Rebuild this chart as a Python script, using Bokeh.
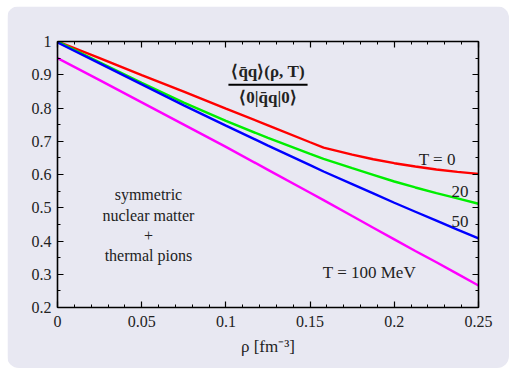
from bokeh.plotting import figure
from bokeh.models import FixedTicker, LinearAxis, Range1d
from bokeh.core.properties import value
from bokeh.embed import file_html
from bokeh.resources import INLINE

# ---- data ----
rho = [0.0, 0.025, 0.05, 0.075, 0.1, 0.125, 0.15, 0.158, 0.175, 0.1875, 0.2, 0.2125, 0.225, 0.2375, 0.25]
cond_T0   = [1.000, 0.950, 0.899, 0.849, 0.798, 0.748, 0.697, 0.681, 0.660, 0.646, 0.634, 0.624, 0.615, 0.608, 0.602]
cond_T20  = [1.000, 0.937, 0.876, 0.816, 0.761, 0.710, 0.662, 0.647, 0.619, 0.599, 0.579, 0.561, 0.544, 0.528, 0.512]
cond_T50  = [0.997, 0.934, 0.871, 0.808, 0.747, 0.687, 0.628, 0.609, 0.571, 0.543, 0.515, 0.488, 0.461, 0.434, 0.408]
cond_T100 = [0.950, 0.884, 0.817, 0.750, 0.683, 0.614, 0.545, 0.523, 0.475, 0.440, 0.405, 0.370, 0.336, 0.301, 0.266]

series_colors = ["#ff0000", "#00ee00", "#0000ff", "#ff00ff"]

x_ticks = [0.0, 0.05, 0.1, 0.15, 0.2, 0.25]
x_tick_labels = ["0", "0.05", "0.1", "0.15", "0.2", "0.25"]
x_minor = [round(i * 0.01, 2) for i in range(26)]
y_ticks = [0.2, 0.3, 0.4, 0.5, 0.6, 0.7, 0.8, 0.9, 1.0]
y_tick_labels = ["0.2", "0.3", "0.4", "0.5", "0.6", "0.7", "0.8", "0.9", "1"]
y_minor = [round(0.2 + i * 0.05, 2) for i in range(17)]

FONT = "Liberation Serif"
TXT = "#222222"
BG = "#e8e8f2"

p = figure(width=502, height=362, output_backend="svg", toolbar_location=None,
           x_range=Range1d(0, 0.25), y_range=Range1d(0.2, 1.0),
           min_border_left=50, min_border_right=31, min_border_top=35, min_border_bottom=61,
           background_fill_color=BG, border_fill_color=BG, outline_line_color=None)
p.margin = (6, 0, 0, 7)
p.styles = {"border-radius": "12px", "overflow": "hidden"}
p.grid.visible = False

bottom = p.below[0]
left = p.left[0]
top = LinearAxis()
right = LinearAxis()
p.add_layout(top, "above")
p.add_layout(right, "right")

for ax in (bottom, top):
    ax.ticker = FixedTicker(ticks=x_ticks, minor_ticks=x_minor)
for ax in (left, right):
    ax.ticker = FixedTicker(ticks=y_ticks, minor_ticks=y_minor)

for ax in (bottom, top, left, right):
    ax.major_tick_in = 6
    ax.major_tick_out = 0
    ax.minor_tick_in = 3
    ax.minor_tick_out = 0
    ax.axis_line_width = 1.6
    ax.axis_line_color = "black"
    ax.major_tick_line_color = "black"
    ax.minor_tick_line_color = "black"
    ax.major_tick_line_width = 1.2
    ax.minor_tick_line_width = 1.0
    ax.major_label_text_font = FONT
    ax.major_label_text_font_size = "16px"
    ax.major_label_text_color = TXT

bottom.major_label_overrides = dict(zip(x_ticks, x_tick_labels))
left.major_label_overrides = dict(zip(y_ticks, y_tick_labels))
bottom.major_label_standoff = 8
left.major_label_standoff = 6
top.major_label_text_color = None
right.major_label_text_color = None
top.major_label_text_font_size = "0px"
right.major_label_text_font_size = "0px"

bottom.axis_label = "ρ [fm⁻³]"
bottom.axis_label_text_font = FONT
bottom.axis_label_text_font_style = "normal"
bottom.axis_label_text_font_size = "17px"
bottom.axis_label_text_color = TXT
bottom.axis_label_standoff = 7

for ys, c in zip([cond_T0, cond_T20, cond_T50, cond_T100], series_colors):
    p.line(rho, ys, line_color=c, line_width=2.4)

# ---- annotations ----
def txt(x, y, s, size="16px", style="normal", align="center", lh=1.2):
    p.text([x], [y], text=[s], text_font=value(FONT), text_font_size=size,
           text_font_style=style, text_color=TXT, text_align=align,
           text_baseline="middle", text_line_height=lh)

txt(0.125, 0.909, "⟨q̄q⟩(ρ, T)", size="17px", style="bold")
p.segment([0.1015], [0.870], [0.1485], [0.870], line_color="black", line_width=2)
txt(0.125, 0.833, "⟨0|q̄q|0⟩", size="17px", style="bold")

txt(0.054, 0.447, "symmetric\nnuclear matter\n+\nthermal pions", size="16px", lh=1.2)
txt(0.228, 0.645, "T  =  0", size="17px")
txt(0.239, 0.549, "20", size="17px")
txt(0.239, 0.459, "50", size="17px")
txt(0.189, 0.305, "T  =  100  MeV", size="17px")

open("out.html", "w").write(file_html(p, INLINE))
